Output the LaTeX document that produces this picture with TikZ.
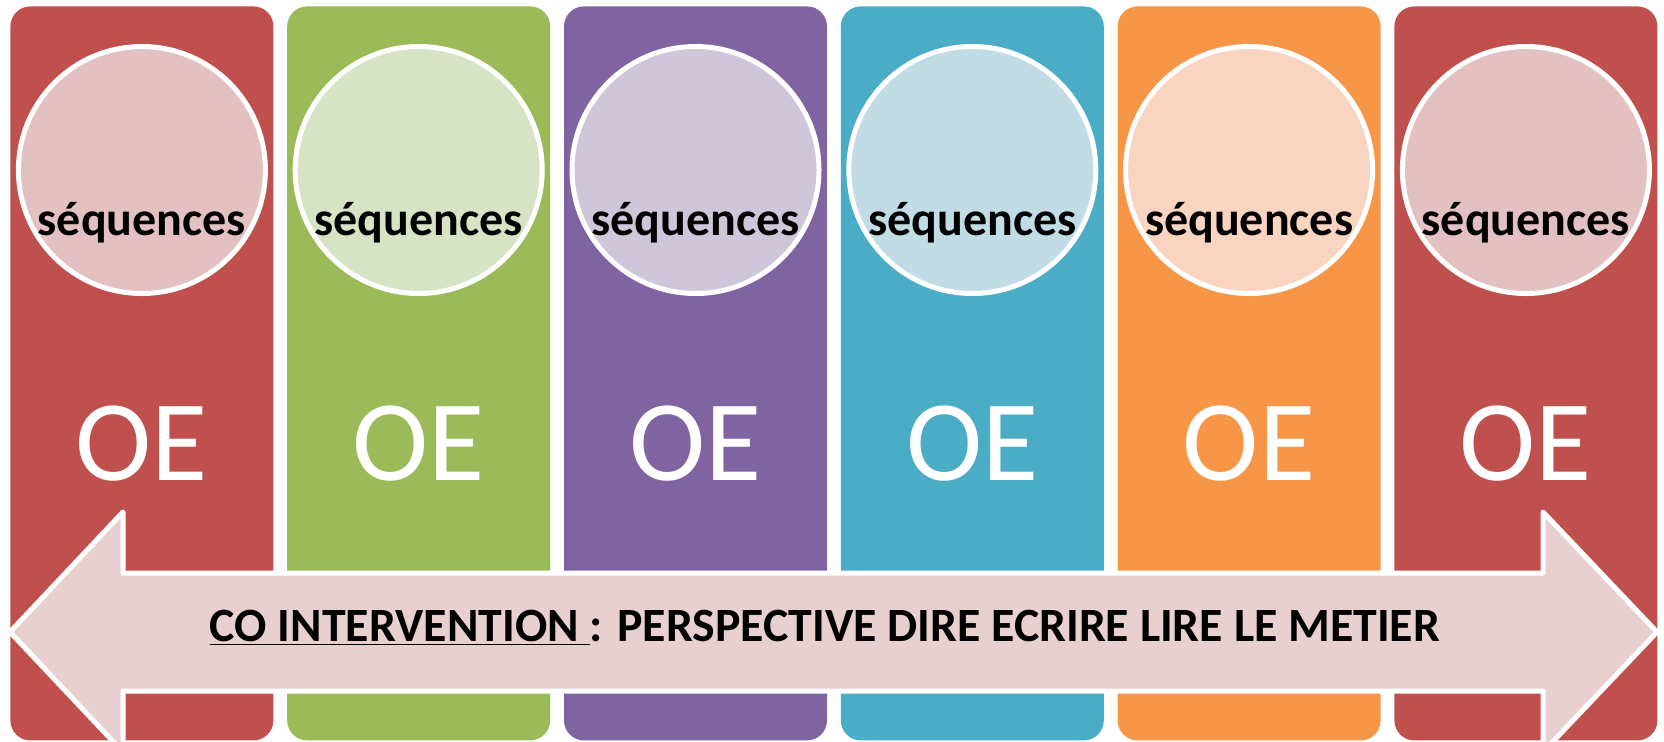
\documentclass[tikz,border=0pt]{standalone}
\usepackage{fontspec}
\setmainfont{Carlito}
\usetikzlibrary{positioning, calc}
\definecolor{oered}{HTML}{C0504D}
\definecolor{oegreen}{HTML}{9BBB59}
\definecolor{oepurple}{HTML}{8064A2}
\definecolor{oeteal}{HTML}{4BACC6}
\definecolor{oeorange}{HTML}{F79646}
\definecolor{oeredl}{HTML}{E3C1C3}
\definecolor{oegreenl}{HTML}{D7E3C5}
\definecolor{oepurplel}{HTML}{CFC7D9}
\definecolor{oeteall}{HTML}{C2DCE6}
\definecolor{oeorangel}{HTML}{F9D4C1}
\definecolor{arrowpink}{HTML}{E8D0D1}
\tikzset{
    column/.style={rectangle, rounded corners=10pt, inner sep=0pt,
      minimum width=131.5pt, minimum height=367pt, anchor=north west},
    seqcircle/.style={circle, draw=white, line width=2.5pt, inner sep=0pt,
      minimum size=123.5pt},
    seqtext/.style={anchor=base, font=\fontsize{24}{24}\selectfont\bfseries},
    oetext/.style={anchor=base, text=white, font=\fontsize{57.5}{57.5}\selectfont},
    cotext/.style={anchor=base, font=\fontsize{23.9}{23.9}\selectfont\bfseries},
}

\begin{document}
\begin{tikzpicture}[x=0.5pt, y=-0.5pt]
    \clip (0,0) rectangle (1664,741);
    \fill[white] (0,0) rectangle (1664,741);

    % the six columns
    \foreach \c/\t [count=\i from 0] in {oered/oeredl, oegreen/oegreenl,
        oepurple/oepurplel, oeteal/oeteall, oeorange/oeorangel, oered/oeredl} {
      \node[column, fill=\c] (col\i) at (10+276.8*\i, 6) {};
      \node[seqcircle, fill=\t] (circ\i) at ($(col\i.north)+(0,164)$) {};
      \node[seqtext] (seq\i) at ($(circ\i.center)+(0,65)$) {séquences};
      \node[oetext] (oe\i) at ($(col\i.north)+(0,474)$) {OE};
    }

    % double arrow
    \draw[white, line width=2.5pt, fill=arrowpink, line join=round]
      (10,632) -- (123,512) -- (123,573) -- (1543,573) -- (1543,512)
      -- (1657,632) -- (1543,752) -- (1543,691) -- (123,691) -- (123,752) -- cycle;
    \node[cotext] (coi) at (825,641)
      {\underline{CO INTERVENTION }: PERSPECTIVE DIRE ECRIRE LIRE LE METIER};
\end{tikzpicture}
\end{document}
